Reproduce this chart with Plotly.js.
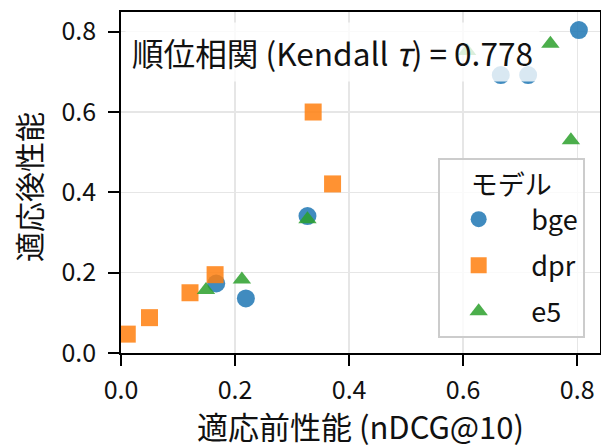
<!DOCTYPE html>
<html>
<head>
<meta charset="utf-8">
<script src="https://cdn.plot.ly/plotly-3.0.1.min.js"></script>
<style>html,body{margin:0;padding:0;background:#fff;}#chart{width:601px;height:448px;}</style>
</head>
<body>
<div id="chart"></div>
<script>
// Data
const models = ["bge", "dpr", "e5"];
const bgeX = [0.803, 0.666, 0.714, 0.327, 0.167, 0.219];
const bgeY = [0.804, 0.692, 0.692, 0.341, 0.173, 0.136];
const dprX = [0.337, 0.371, 0.165, 0.121, 0.050, 0.011];
const dprY = [0.600, 0.421, 0.195, 0.150, 0.088, 0.047];
const e5X = [0.753, 0.607, 0.789, 0.327, 0.212, 0.149];
const e5Y = [0.770, 0.752, 0.530, 0.333, 0.183, 0.157];
const tickVals = [0.0, 0.2, 0.4, 0.6, 0.8];
const tickText = ["0.0", "0.2", "0.4", "0.6", "0.8"];
const kendallTau = 0.778;
const xTitle = "適応前性能 (nDCG@10)";
const yTitle = "適応後性能";

const FONT = '"Noto Sans CJK JP", "Noto Sans", sans-serif';
const colors = ["#1f77b4", "#ff7f0e", "#2ca02c"];
const symbols = ["circle", "square", "triangle-up"];
const sizes = [18, 17, 16];
const xs = [bgeX, dprX, e5X];
const ys = [bgeY, dprY, e5Y];

const traces = models.map((m, i) => ({
  type: "scatter",
  mode: "markers",
  name: "\u2002" + m,
  legendgroup: m,
  x: xs[i],
  y: ys[i],
  marker: {color: colors[i], symbol: symbols[i], size: sizes[i], opacity: 0.85, line: {width: 0}}
}));

const axisCommon = {
  showline: true, linecolor: "#000", linewidth: 1.8, mirror: true,
  ticks: "outside", ticklen: 11, tickwidth: 1.8, tickcolor: "#000",
  showgrid: true, gridcolor: "#e6e6e6", gridwidth: 1.3,
  zeroline: false,
  tickvals: tickVals, ticktext: tickText,
  tickfont: {family: FONT, size: 25, color: "#111"}
};

const layout = {
  width: 601, height: 448,
  margin: {l: 121, r: 1, t: 12, b: 95},
  paper_bgcolor: "#fff", plot_bgcolor: "#fff",
  font: {family: FONT, color: "#111"},
  showlegend: true,
  xaxis: Object.assign({}, axisCommon, {
    range: [0, 0.84],
    ticklabelstandoff: 3,
    title: {text: xTitle, font: {family: FONT, size: 31, color: "#111"}, standoff: 10}
  }),
  yaxis: Object.assign({}, axisCommon, {
    range: [0, 0.849],
    ticklabelstandoff: 7
  }),
  legend: {
    x: 0.968, y: 0.044, xanchor: "right", yanchor: "bottom",
    bgcolor: "rgba(255,255,255,0.8)", bordercolor: "#cccccc", borderwidth: 2,
    font: {family: FONT, size: 27, color: "#111"},
    title: {text: "モデル", side: "top center", font: {family: FONT, size: 27, color: "#111"}},
    traceorder: "grouped", tracegroupgap: 8, itemwidth: 68
  },
  annotations: [{
    xref: "paper", yref: "paper", x: 0.008, y: 0.883, xanchor: "left", yanchor: "middle",
    text: "順位相関 (Kendall <i>τ</i>) = " + kendallTau.toFixed(3),
    showarrow: false,
    font: {family: FONT, size: 31.6, color: "#111"},
    bgcolor: "rgba(255,255,255,0.8)", borderpad: 6
  }, {
    xref: "paper", yref: "paper", x: -0.194, y: 0.487, xanchor: "center", yanchor: "middle",
    text: yTitle, textangle: -90, showarrow: false,
    font: {family: FONT, size: 30, color: "#111"}
  }]
};

Plotly.newPlot("chart", traces, layout, {displayModeBar: false, staticPlot: true});
</script>
</body>
</html>
